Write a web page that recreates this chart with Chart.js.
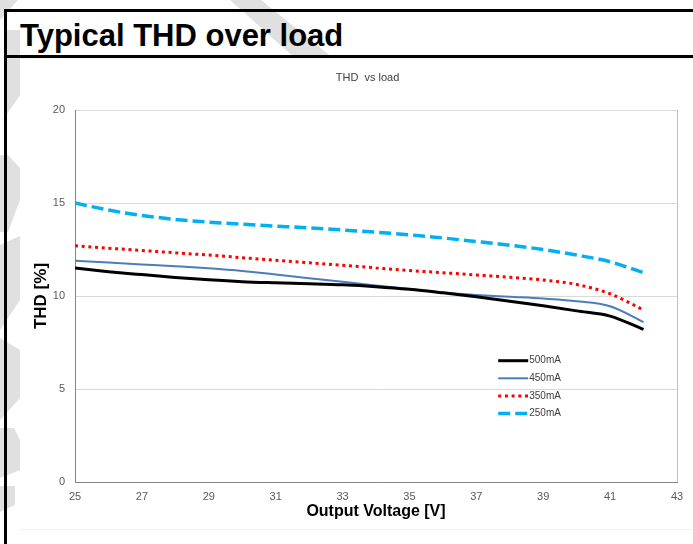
<!DOCTYPE html>
<html>
<head>
<meta charset="utf-8">
<script src="https://cdn.jsdelivr.net/npm/chart.js@4.4.1/dist/chart.umd.min.js"></script>
<style>
  html, body { margin: 0; padding: 0; background: #fff; }
  body { width: 693px; height: 544px; position: relative; overflow: hidden; font-family: 'Liberation Sans', Arial, sans-serif; }
  #wm { position: absolute; left: 0; top: 0; }
  #frame { position: absolute; left: 4px; top: 9px; width: 720px; height: 600px; border-left: 3px solid #000; border-top: 3px solid #000; }
  #head { position: absolute; left: 7px; top: 12px; width: 720px; height: 43px; border-bottom: 3px solid #000; }
  #head h1 { margin: 0; position: absolute; left: 13px; top: 8px; font: bold 31px/31px 'Liberation Sans', Arial, sans-serif; color: #000; white-space: nowrap; }
  #card { position: absolute; left: 20px; top: 58px; width: 673px; height: 470px; background: #fff; border-top: 1px solid #f0f0f0; border-bottom: 1px solid #f0f0f0; }
  #wrap { position: absolute; left: 0; top: 0; width: 673px; height: 470px; }
</style>
</head>
<body>
<svg id="wm" width="693" height="544">
  <g fill="#e0e0e0">
    <polygon points="230,0 261,0 333,58 295,58"/>
    <polygon points="0,0 18,0 0,20"/>
    <polygon points="7,30 20,30 20,95 7,114"/>
    <polygon points="0,155 8,155 20,168 20,200 8,232 0,232"/>
    <polygon points="0,245 20,236 20,300 0,330"/>
    <polygon points="0,338 20,350 20,398 0,420"/>
    <polygon points="0,428 14,428 20,440 20,470 0,478"/>
    <polygon points="0,486 15,486 15,505 0,512"/>
  </g>
</svg>
<div id="frame"></div>
<div id="head"><h1>Typical THD over load</h1></div>
<div id="card"><div id="wrap"><canvas id="thd"></canvas></div></div>
<script>
  // Output voltage [V]
  const VOLTS = [25, 26, 27, 28, 29, 30, 31, 32, 33, 34, 35, 36, 37, 38, 39, 40, 41, 42];
  // THD [%] per load
  const THD_500 = [11.5, 11.31, 11.15, 11.0, 10.87, 10.77, 10.71, 10.66, 10.6, 10.5, 10.36, 10.17, 9.96, 9.72, 9.47, 9.2, 8.92, 8.2];
  const THD_450 = [11.9, 11.8, 11.7, 11.6, 11.49, 11.35, 11.16, 10.96, 10.76, 10.56, 10.37, 10.19, 10.06, 9.96, 9.86, 9.72, 9.45, 8.6];
  const THD_350 = [12.7, 12.57, 12.45, 12.32, 12.2, 12.06, 11.92, 11.79, 11.65, 11.51, 11.37, 11.25, 11.13, 11.01, 10.86, 10.62, 10.12, 9.25];
  const THD_250 = [15.0, 14.62, 14.33, 14.12, 13.97, 13.86, 13.76, 13.66, 13.55, 13.43, 13.29, 13.12, 12.93, 12.73, 12.5, 12.2, 11.84, 11.25];
  const LOADS = ['500mA', '450mA', '350mA', '250mA'];

  const FONT = "'Liberation Sans', Arial, sans-serif";
  const pts = (ys) => VOLTS.map((x, i) => ({ x, y: ys[i] }));

  const STYLES = [
    { color: '#000000', width: 3, dash: [] },
    { color: '#4A7EBB', width: 2, dash: [] },
    { color: '#FF0000', width: 3, dash: [3, 3.7] },
    { color: '#00B0F0', width: 3.5, dash: [12, 5] },
  ];

  const datasets = [THD_500, THD_450, THD_350, THD_250].map((ys, i) => ({
    label: LOADS[i],
    data: pts(ys),
    borderColor: STYLES[i].color,
    borderWidth: STYLES[i].width,
    borderDash: STYLES[i].dash,
    cubicInterpolationMode: 'monotone',
    pointRadius: 0,
    fill: false,
  }));

  // chart title + legend inside the plot, Excel style
  const overlay = {
    id: 'overlay',
    afterDraw(c) {
      const { ctx, chartArea: a } = c;
      ctx.save();
      ctx.font = '11px ' + FONT;
      ctx.fillStyle = '#404040';
      ctx.textAlign = 'center';
      ctx.textBaseline = 'middle';
      ctx.fillText('THD  vs load', a.left + a.width * 0.486, a.top - 32);

      const x0 = a.left + a.width * 0.703;
      ctx.font = '10px ' + FONT;
      ctx.textAlign = 'left';
      c.data.datasets.forEach((d, i) => {
        const y = a.top + 250.7 + i * 17.6;
        ctx.strokeStyle = d.borderColor;
        ctx.lineWidth = d.borderWidth;
        ctx.setLineDash(d.borderDash);
        ctx.beginPath();
        ctx.moveTo(x0, y);
        ctx.lineTo(x0 + 30, y);
        ctx.stroke();
        ctx.setLineDash([]);
        ctx.fillText(d.label, x0 + 31, y);
      });
      ctx.restore();
    },
  };

  new Chart(document.getElementById('thd').getContext('2d'), {
    type: 'line',
    data: { datasets },
    plugins: [overlay],
    options: {
      responsive: true,
      maintainAspectRatio: false,
      animation: false,
      layout: { padding: { left: 10.8, right: 16, top: 51, bottom: 7.4 } },
      plugins: { legend: { display: false }, title: { display: false }, tooltip: { enabled: false } },
      scales: {
        x: {
          type: 'linear', min: 25, max: 43,
          afterFit: (s) => { s.height = 39.6; },
          ticks: { stepSize: 2, padding: 8, color: '#595959', font: { family: FONT, size: 11 } },
          grid: { drawTicks: false, color: (c) => c.tick && c.tick.value === 43 ? '#bfbfbf' : 'rgba(0,0,0,0)' },
          border: { color: '#868686', width: 1 },
          title: { display: true, text: 'Output Voltage [V]', color: '#000', padding: 0, font: { family: FONT, size: 16, weight: 'bold' } },
        },
        y: {
          min: 0, max: 20,
          afterFit: (s) => { s.width = 44.2; },
          ticks: { stepSize: 5, padding: 10, color: '#595959', font: { family: FONT, size: 11 } },
          grid: { drawTicks: false, color: '#d9d9d9' },
          border: { color: '#868686', width: 1 },
          title: { display: true, text: 'THD [%]', color: '#000', padding: 0, font: { family: FONT, size: 17, weight: 'bold' } },
        },
      },
    },
  });
</script>
</body>
</html>
